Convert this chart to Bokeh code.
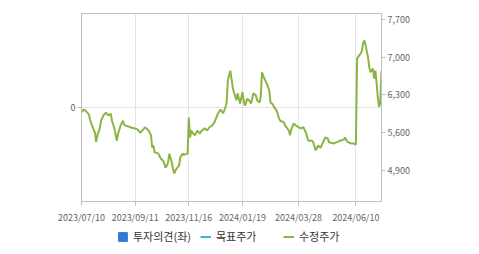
from bokeh.plotting import figure
from bokeh.layouts import column
from bokeh.models import (Range1d, LinearAxis, FixedTicker, NumeralTickFormatter,
                          Legend, LegendItem)
from bokeh.embed import file_html
from bokeh.resources import INLINE

NAN = float("nan")

# ---- data ----
day_index = [0, 2, 4, 6, 7, 9, 11, 12, 13, 15, 16, 18, 20, 22, 24, 25, 27, 29, 30, 32,
             34, 35, 36, 39, 41, 43, 46, 48, 50, 52, 53, 55, 57, 58, 59, 60, 61, 63, 65, 67,
             69, 70, 71, 72, 74, 75, 76, 77, 80, 81, 83, 84, 87, 88, 89, 90, 91, 93, 95, 97,
             98, 101, 103, 105, 107, 109, 112, 114, 116, 117, 119, 120, 121, 122, 123, 124, 125, 127, 128, 130,
             131, 132, 133, 134, 136, 138, 139, 141, 143, 144, 146, 147, 148, 150, 152, 154, 155, 157, 158, 160,
             162, 163, 166, 167, 170, 171, 172, 174, 176, 178, 180, 182, 184, 186, 189, 190, 192, 194, 196, 198,
             200, 202, 203, 207, 210, 212, 215, 216, 218, 221, 223, 225, 226, 227, 229, 230, 231, 232, 233, 235,
             236, 237, 239, 240, 241, 242, 243, 244, 245, 246]
adj_price = [5980, 6030, 5990, 5940, 5840, 5710, 5600, 5430, 5550, 5680, 5820, 5920, 5970, 5920, 5950, 5820, 5680, 5450, 5580, 5730,
             5820, 5750, 5730, 5710, 5690, 5680, 5660, 5600, 5640, 5700, 5680, 5640, 5550, 5320, 5360, 5230, 5230, 5210, 5120, 5080,
             4950, 4990, 5050, 5210, 5050, 4930, 4840, 4900, 4990, 5140, 5210, 5190, 5210, 5880, 5510, 5640, 5600, 5550, 5640, 5580,
             5620, 5680, 5640, 5700, 5730, 5790, 5960, 6030, 5960, 6010, 6140, 6570, 6660, 6750, 6600, 6440, 6350, 6200, 6330, 6140,
             6250, 6350, 6200, 6100, 6230, 6180, 6140, 6330, 6290, 6200, 6160, 6270, 6720, 6600, 6510, 6380, 6160, 6120, 6070, 6010,
             5860, 5820, 5790, 5730, 5640, 5550, 5660, 5770, 5730, 5700, 5680, 5700, 5600, 5450, 5450, 5420, 5270, 5360, 5320, 5420,
             5510, 5490, 5420, 5400, 5430, 5450, 5470, 5510, 5430, 5400, 5400, 5380, 6980, 7010, 7070, 7120, 7270, 7310, 7220, 6990,
             6810, 6720, 6790, 6600, 6750, 6510, 6250, 6080, 6150, 6750]
target_day = [0]
target_price = [NAN]       # 목표주가: no values
opinion_day = [0]
opinion = [NAN]            # 투자의견: no values
tick_index = [0, 44, 88, 132, 178, 225]
tick_labels = ["2023/07/10", "2023/09/11", "2023/11/16", "2024/01/19", "2024/03/28", "2024/06/10"]
price_ticks = [4900, 5600, 6300, 7000, 7700]
opinion_ticks = [0]
series_names = ["투자의견(좌)", "목표주가", "수정주가"]

GREEN = "#8cb445"
CYAN = "#3bb4d8"
BLUE = "#2f7bd6"
AXIS = "#c0c0c0"
GRID = "#e4e4e4"
TXT = "#666666"
FONT = "Noto Sans CJK KR"

p = figure(frame_width=300, frame_height=188, output_backend="svg", toolbar_location=None,
           x_range=Range1d(0, 246), y_range=Range1d(-1, 1),
           min_border_left=81, min_border_right=98, min_border_top=13, min_border_bottom=22)
p.extra_y_ranges = {"price": Range1d(4322, 7811)}
p.outline_line_color = AXIS
p.background_fill_color = "white"
p.border_fill_color = "white"


def style_axis(ax, standoff):
    ax.minor_tick_line_color = None
    ax.major_tick_in = 0
    ax.major_tick_out = 4
    ax.major_label_standoff = standoff
    ax.axis_line_color = AXIS
    ax.major_tick_line_color = AXIS
    ax.major_label_text_font = FONT
    ax.major_label_text_font_size = "9px"
    ax.major_label_text_color = TXT


# x axis
xa = p.xaxis[0]
xa.ticker = FixedTicker(ticks=tick_index)
xa.major_label_overrides = {t: l for t, l in zip(tick_index, tick_labels)}
style_axis(xa, 5)

# left axis (opinion)
ya = p.yaxis[0]
ya.ticker = FixedTicker(ticks=opinion_ticks)
style_axis(ya, 2)

# right axis (price)
ra = LinearAxis(y_range_name="price", ticker=FixedTicker(ticks=price_ticks),
                formatter=NumeralTickFormatter(format="0,0"))
style_axis(ra, 2)
p.add_layout(ra, "right")

p.xgrid.grid_line_color = GRID
p.xgrid.ticker = FixedTicker(ticks=tick_index)
p.ygrid.grid_line_color = GRID
p.ygrid.ticker = FixedTicker(ticks=opinion_ticks)

# series
p.quad(left=opinion_day, right=opinion_day, top=opinion, bottom=opinion,
       fill_color=BLUE, line_color=BLUE)
p.line(x=target_day, y=target_price, y_range_name="price", line_color=CYAN, line_width=2)
p.line(x=day_index, y=adj_price, y_range_name="price", line_color=GREEN, line_width=2)

# ---- legend strip (separate figure so the legend is not clipped) ----
lf = figure(width=479, height=31, output_backend="svg", toolbar_location=None,
            x_range=Range1d(0, 1), y_range=Range1d(0, 1), min_border=0)
lf.axis.visible = False
lf.grid.visible = False
lf.outline_line_color = None
lf.background_fill_color = "white"
lf.border_fill_color = "white"
l_op = lf.quad(left=opinion_day, right=opinion_day, top=opinion, bottom=opinion,
               fill_color=BLUE, line_color=BLUE)
l_tp = lf.line(x=target_day, y=target_price, line_color=CYAN, line_width=2)
l_px = lf.line(x=day_index, y=adj_price, line_color=GREEN, line_width=2)

leg = Legend(items=[LegendItem(label=series_names[0], renderers=[l_op]),
                    LegendItem(label=series_names[1], renderers=[l_tp]),
                    LegendItem(label=series_names[2], renderers=[l_px])],
             location=(36, 13), orientation="horizontal",
             padding=0, margin=0, spacing=0,
             glyph_width=11, glyph_height=11, label_standoff=5,
             label_width=67, label_height=11,
             label_text_font=FONT, label_text_font_size="11px",
             label_text_color="#333333",
             border_line_color=None, background_fill_alpha=0)
lf.add_layout(leg, "center")

open("out.html", "w").write(file_html(column(p, lf, spacing=0), INLINE))
